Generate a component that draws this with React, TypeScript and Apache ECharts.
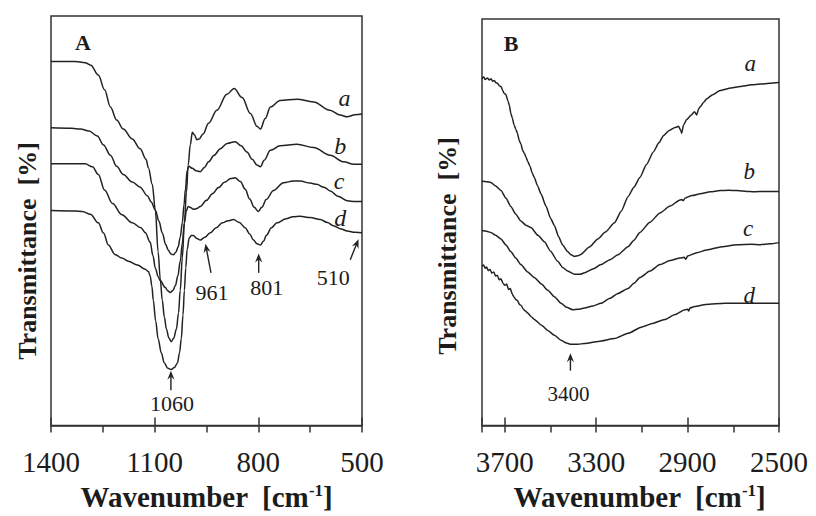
import { useEffect, useRef } from 'react';
import * as echarts from 'echarts';

type Pt = [number, number];

// ---------- Panel A : 1400–500 cm-1 ----------
const A_TICK_LABELS = [1400, 1100, 800, 500];
const A_a: Pt[] = [
  [1400, 88.9], [1330, 88.9], [1301, 88.6], [1285, 88.0], [1263, 85.6], [1245, 82.0], [1228, 77.8], [1210, 74.6],
  [1191, 72.4], [1165, 70.0], [1142, 67.6], [1125, 65.0], [1118, 62.9], [1107, 58.9], [1098, 52.6], [1090, 42.4],
  [1084, 36.0], [1078, 30.6], [1072, 26.5], [1066, 23.6], [1059, 21.4], [1052, 20.5], [1045, 21.3], [1037, 23.6],
  [1031, 27.5], [1026, 33.0], [1020, 41.0], [1014, 49.5], [1008, 57.0], [1003, 63.6], [997, 68.5], [991, 71.6],
  [985, 71.0], [978, 69.8], [971, 70.0], [960, 71.2], [944, 73.8], [920, 77.0], [891, 80.9], [870, 82.3],
  [847, 80.1], [823, 76.2], [804, 73.1], [794, 72.4], [780, 75.0], [765, 77.8], [737, 79.4], [688, 79.7],
  [640, 79.0], [593, 77.0], [563, 75.8], [543, 75.4], [520, 75.9], [500, 76.1],
];
const A_b: Pt[] = [
  [1400, 72.7], [1340, 72.6], [1315, 72.4], [1290, 71.9], [1266, 70.7], [1248, 68.5], [1228, 66.0], [1210, 63.3],
  [1191, 61.3], [1165, 59.5], [1142, 58.2], [1121, 56.1], [1110, 54.6], [1098, 52.6], [1088, 50.0], [1078, 47.1],
  [1068, 44.2], [1061, 42.9], [1053, 41.9], [1046, 41.7], [1039, 42.3], [1032, 43.6], [1026, 46.0], [1020, 49.5],
  [1015, 54.0], [1011, 57.7], [1006, 62.3], [1001, 63.3], [991, 62.8], [980, 62.2], [968, 62.0], [956, 63.0],
  [944, 64.4], [928, 66.0], [910, 67.6], [890, 68.9], [867, 69.3], [850, 68.3], [833, 66.8], [818, 65.0],
  [804, 63.6], [794, 63.2], [783, 64.8], [765, 67.2], [737, 68.3], [688, 68.7], [640, 67.9], [592, 66.0],
  [553, 64.4], [524, 63.8], [500, 63.8],
];
const A_c: Pt[] = [
  [1400, 63.9], [1330, 63.9], [1301, 63.9], [1280, 63.2], [1263, 61.3], [1245, 57.5], [1222, 54.2], [1195, 51.5],
  [1165, 49.5], [1140, 48.3], [1127, 47.1], [1113, 44.8], [1105, 41.5], [1098, 38.4], [1090, 36.4], [1084, 35.4],
  [1069, 33.7], [1062, 32.9], [1055, 32.5], [1047, 33.0], [1040, 34.2], [1033, 36.5], [1026, 40.1], [1020, 44.5],
  [1014, 49.5], [1008, 52.5], [1003, 53.5], [995, 53.2], [988, 52.8], [978, 53.0], [968, 53.5], [950, 55.0],
  [933, 56.6], [915, 58.1], [898, 59.4], [880, 60.3], [867, 60.5], [852, 59.6], [838, 57.7], [825, 55.3],
  [812, 53.3], [800, 52.3], [790, 53.3], [777, 55.2], [756, 57.4], [727, 59.3], [699, 59.7], [679, 59.7],
  [650, 59.2], [631, 58.9], [610, 58.2], [592, 57.3], [570, 56.0], [543, 54.9], [520, 54.7], [500, 54.7],
];
const A_d: Pt[] = [
  [1400, 52.5], [1330, 52.4], [1309, 52.3], [1286, 51.6], [1263, 49.5], [1248, 47.0], [1234, 44.1], [1215, 41.8],
  [1195, 40.9], [1176, 40.1], [1150, 39.2], [1127, 38.2], [1118, 37.6], [1113, 36.5], [1108, 34.0], [1104, 30.6],
  [1097, 25.5], [1090, 21.2], [1081, 17.8], [1072, 15.3], [1062, 14.0], [1052, 13.7], [1043, 14.2], [1034, 15.3],
  [1028, 17.8], [1023, 21.2], [1018, 27.0], [1014, 33.0], [1010, 38.5], [1006, 43.0], [1000, 45.8], [994, 46.4],
  [988, 46.4], [978, 45.7], [968, 45.3], [955, 46.0], [939, 47.1], [922, 48.3], [904, 49.5], [888, 50.0],
  [872, 50.3], [855, 49.6], [838, 48.3], [825, 46.8], [814, 45.3], [804, 44.4], [794, 44.1], [785, 45.0],
  [777, 46.4], [762, 48.3], [746, 49.5], [720, 50.5], [700, 51.0], [679, 51.1], [650, 50.8], [621, 50.3],
  [600, 49.6], [583, 48.8], [560, 48.0], [543, 47.5], [520, 47.2], [500, 47.1],
];
const A_PEAKS = [
  { label: '1060', tail: [1053, 8.6], tip: [1053, 13.4] },
  { label: '961', tail: [937, 37.3], tip: [953, 44.4] },
  { label: '801', tail: [799, 37.3], tip: [799, 42.0] },
  { label: '510', tail: [534, 40.5], tip: [510, 45.5] },
];

// ---------- Panel B : 3800–2500 cm-1 ----------
const B_TICK_LABELS = [3700, 3300, 2900, 2500];
const B_a: Pt[] = [
  [3800, 85.2], [3793, 85.8], [3786, 85.1], [3776, 85.5], [3768, 85.0], [3760, 85.3], [3754, 84.7], [3746, 84.9],
  [3739, 84.3], [3732, 84.2], [3725, 83.6], [3717, 83.4], [3710, 82.5], [3703, 81.7], [3696, 81.5], [3686, 79.8],
  [3680, 78.7], [3674, 76.8], [3667, 75.6], [3660, 74.0], [3652, 72.9], [3645, 71.9], [3637, 70.1], [3630, 69.3],
  [3622, 67.7], [3614, 66.9], [3607, 66.0], [3600, 65.0], [3590, 63.8], [3580, 62.1], [3571, 61.0], [3557, 59.0],
  [3542, 57.0], [3520, 54.0], [3500, 51.0], [3483, 49.2], [3465, 46.5], [3447, 44.4], [3425, 42.8], [3410, 42.0],
  [3395, 41.6], [3380, 41.8], [3368, 42.1], [3330, 43.9], [3293, 45.9], [3260, 47.6], [3220, 49.9], [3190, 52.8],
  [3161, 56.3], [3135, 58.6], [3109, 61.0], [3080, 64.2], [3050, 67.3], [3025, 69.6], [3006, 71.3], [2980, 72.6],
  [2955, 73.3], [2940, 73.6], [2930, 72.6], [2926, 71.9], [2918, 73.9], [2904, 75.3], [2885, 76.3], [2870, 77.2],
  [2860, 76.4], [2852, 77.9], [2845, 78.4], [2830, 79.5], [2816, 80.4], [2790, 81.4], [2758, 82.4], [2710, 83.0],
  [2670, 83.4], [2620, 83.8], [2582, 84.0], [2540, 84.2], [2500, 84.4],
];
const B_b: Pt[] = [
  [3800, 60.1], [3780, 60.0], [3761, 59.8], [3740, 58.9], [3717, 57.8], [3695, 55.9], [3674, 53.9], [3652, 52.0],
  [3630, 50.3], [3608, 49.3], [3586, 48.7], [3555, 46.8], [3527, 45.2], [3500, 42.9], [3469, 40.4], [3445, 38.8],
  [3425, 38.0], [3395, 37.2], [3370, 37.2], [3351, 37.6], [3315, 38.5], [3279, 39.6], [3240, 40.8], [3205, 42.0],
  [3161, 44.0], [3135, 45.6], [3109, 47.5], [3065, 50.0], [3021, 52.3], [2977, 54.0], [2933, 55.5], [2925, 55.6],
  [2920, 55.3], [2910, 56.0], [2880, 56.6], [2845, 57.0], [2800, 57.5], [2758, 57.8], [2720, 57.9], [2684, 57.8],
  [2640, 57.6], [2611, 57.5], [2560, 57.6], [2500, 57.6],
];
const B_c: Pt[] = [
  [3800, 48.0], [3780, 47.8], [3761, 47.5], [3740, 46.8], [3717, 45.9], [3695, 44.4], [3674, 42.8], [3652, 41.2],
  [3630, 39.6], [3600, 37.8], [3571, 36.4], [3540, 34.8], [3512, 33.3], [3483, 31.7], [3454, 30.1], [3430, 29.1],
  [3403, 28.5], [3380, 28.6], [3351, 28.9], [3315, 29.4], [3279, 30.1], [3240, 31.3], [3205, 32.5], [3161, 33.7],
  [3135, 35.0], [3109, 36.4], [3065, 38.0], [3021, 39.6], [2977, 40.6], [2933, 41.2], [2915, 41.4], [2908, 40.9],
  [2900, 41.7], [2860, 42.5], [2816, 43.2], [2750, 44.0], [2684, 44.5], [2620, 44.6], [2582, 44.5], [2540, 44.7],
  [2500, 45.0],
];
const B_d: Pt[] = [
  [3800, 39.2], [3793, 39.5], [3786, 38.7], [3780, 39.0], [3772, 38.1], [3765, 38.4], [3757, 37.5], [3748, 37.8],
  [3741, 36.8], [3733, 37.0], [3725, 35.9], [3717, 36.1], [3709, 35.1], [3700, 34.5], [3692, 34.8], [3684, 33.5],
  [3676, 33.7], [3668, 32.4], [3660, 31.6], [3652, 31.0], [3644, 30.7], [3636, 29.8], [3628, 29.5], [3620, 28.7],
  [3610, 28.2], [3600, 27.7], [3585, 26.8], [3571, 26.1], [3540, 24.7], [3512, 23.4], [3483, 22.2], [3454, 21.0],
  [3430, 20.3], [3410, 20.0], [3380, 20.0], [3351, 20.2], [3290, 20.7], [3220, 21.4], [3160, 22.7], [3103, 24.2],
  [3050, 25.2], [3000, 26.1], [2955, 27.3], [2912, 28.5], [2900, 28.6], [2895, 28.2], [2890, 28.9], [2869, 29.3],
  [2820, 29.8], [2737, 30.1], [2680, 30.1], [2591, 30.1], [2500, 30.1],
];
const B_PEAKS = [{ label: '3400', tail: [3413, 13.5], tip: [3413, 17.8] }];

const CURVE_NAMES = ['a', 'b', 'c', 'd'];

// ---------- layout / style (not data) ----------
const FONT = '"Liberation Serif", "Times New Roman", serif';
const INK = '#1c1c1c';
const A_LABEL_POS: Pt[] = [[551, 80.1], [563, 68.3], [566, 59.6], [563, 50.7]];
const B_LABEL_POS: Pt[] = [[2626, 89.1], [2630, 62.5], [2635, 48.5], [2630, 31.9]];
const A_PEAK_OFFSETS: Pt[] = [[1, 13], [1, 20], [8, 15], [-17, 18]];
const B_PEAK_OFFSETS: Pt[] = [[-2, 23]];

function makeXAxes(gridIndex: number, min: number, max: number, minor: number, labels: number[]) {
  return [
    {
      type: 'value', gridIndex, min, max, interval: minor, inverse: true, position: 'bottom',
      axisLine: { show: true, lineStyle: { color: '#333', width: 1.5 } },
      axisTick: { show: true, inside: false, length: 7, lineStyle: { color: '#333', width: 1.5 } },
      axisLabel: {
        show: true, margin: 22, fontFamily: FONT, fontSize: 29, color: INK,
        formatter: (v: number) => (labels.includes(Math.round(v)) ? String(Math.round(v)) : ''),
      },
      splitLine: { show: false },
      name: '{b|Wavenumber  [cm}{s|-1}{b|]}',
      nameLocation: 'middle',
      nameGap: 53,
      nameTextStyle: {
        rich: {
          b: { fontFamily: FONT, fontSize: 29, fontWeight: 'bold', color: INK, lineHeight: 30 },
          s: { fontFamily: FONT, fontSize: 17, fontWeight: 'bold', color: INK, verticalAlign: 'top', lineHeight: 30 },
        },
      },
    },
    {
      type: 'value', gridIndex, min, max, interval: minor * 2, inverse: true, position: 'bottom',
      axisLine: { show: false },
      axisTick: { show: true, inside: true, length: 8, lineStyle: { color: '#333', width: 1.5 } },
      axisLabel: { show: false },
      splitLine: { show: false },
    },
  ];
}

function makeYAxis(gridIndex: number) {
  return {
    type: 'value', gridIndex, min: 0, max: 100,
    axisLine: { show: false }, axisTick: { show: false }, axisLabel: { show: false }, splitLine: { show: false },
  };
}

function curve(name: string, data: Pt[], xi: number, yi: number, smooth: number) {
  return {
    type: 'line', name, data, xAxisIndex: xi, yAxisIndex: yi,
    showSymbol: false, symbol: 'none', smooth, smoothMonotone: 'x',
    lineStyle: { color: '#222', width: 1.5 }, silent: true,
  };
}

export default function App() {
  const ref = useRef<HTMLDivElement>(null);
  useEffect(() => {
    const chart = echarts.init(ref.current!, undefined, { renderer: 'svg' });
    const xAxes = [
      ...makeXAxes(0, 500, 1400, 150, A_TICK_LABELS),
      ...makeXAxes(1, 2500, 3800, 200, B_TICK_LABELS),
    ];
    xAxes[2].nameTextStyle = { ...xAxes[2].nameTextStyle, padding: [0, 0, 0, 18] } as any;
    const aCurves = [A_a, A_b, A_c, A_d];
    const bCurves = [B_a, B_b, B_c, B_d];
    chart.setOption({
      animation: false,
      backgroundColor: '#ffffff',
      grid: [
        { left: 51, top: 16, width: 311, height: 424, show: true, borderColor: '#333', borderWidth: 1.5, backgroundColor: 'transparent' },
        { left: 482, top: 19, width: 297, height: 421, show: true, borderColor: '#333', borderWidth: 1.5, backgroundColor: 'transparent' },
      ],
      xAxis: xAxes,
      yAxis: [makeYAxis(0), makeYAxis(1)],
      series: [
        ...aCurves.map((d, i) => curve('A-' + CURVE_NAMES[i], d, 0, 0, 0.35)),
        ...bCurves.map((d, i) => curve('B-' + CURVE_NAMES[i], d, 2, 1, 0.2)),
      ],
    });

    const toPx = (seriesIndex: number, p: number[]) =>
      chart.convertToPixel({ seriesIndex }, p) as unknown as number[];

    const graphics: any[] = [];
    const txt = (x: number, y: number, text: string, font: any, extra: any = {}) => ({
      type: 'text', x, y, silent: true, ...extra,
      style: {
        text, fill: INK, fontFamily: FONT, textAlign: 'center', textVerticalAlign: 'middle', verticalAlign: 'middle',
        ...font,
      },
    });

    // panel letters
    graphics.push(txt(83, 42, 'A', { fontSize: 22, fontWeight: 'bold' }));
    graphics.push(txt(511, 43, 'B', { fontSize: 22, fontWeight: 'bold' }));
    // y titles
    graphics.push(txt(27, 251, 'Transmittance  [%]', { fontSize: 26, fontWeight: 'bold' }, { rotation: Math.PI / 2 }));
    graphics.push(txt(447, 246, 'Transmittance  [%]', { fontSize: 26, fontWeight: 'bold' }, { rotation: Math.PI / 2 }));

    // curve labels
    A_LABEL_POS.forEach((p, i) => {
      const [x, y] = toPx(0, p);
      graphics.push(txt(x, y, CURVE_NAMES[i], { fontSize: 24, fontStyle: 'italic' }));
    });
    B_LABEL_POS.forEach((p, i) => {
      const [x, y] = toPx(4, p);
      graphics.push(txt(x, y, CURVE_NAMES[i], { fontSize: 23, fontStyle: 'italic' }));
    });

    // peak arrows
    const arrow = (si: number, pk: { label: string; tail: number[]; tip: number[] }, off: Pt, fs: number) => {
      const t = toPx(si, pk.tail);
      const h = toPx(si, pk.tip);
      const dx = h[0] - t[0];
      const dy = h[1] - t[1];
      const len = Math.hypot(dx, dy) || 1;
      const ux = dx / len;
      const uy = dy / len;
      const nx = -uy;
      const ny = ux;
      const L = 9;
      const W = 3.6;
      graphics.push({
        type: 'line', silent: true,
        shape: { x1: t[0], y1: t[1], x2: h[0] - ux * L * 0.6, y2: h[1] - uy * L * 0.6 },
        style: { stroke: '#222', lineWidth: 1.4 },
      });
      graphics.push({
        type: 'polygon', silent: true,
        shape: {
          points: [
            [h[0], h[1]],
            [h[0] - ux * L + nx * W, h[1] - uy * L + ny * W],
            [h[0] - ux * L * 0.65, h[1] - uy * L * 0.65],
            [h[0] - ux * L - nx * W, h[1] - uy * L - ny * W],
          ],
        },
        style: { fill: '#222' },
      });
      graphics.push(txt(t[0] + off[0], t[1] + off[1], pk.label, { fontSize: fs }));
    };
    A_PEAKS.forEach((pk, i) => arrow(0, pk, A_PEAK_OFFSETS[i], 22));
    B_PEAKS.forEach((pk, i) => arrow(4, pk, B_PEAK_OFFSETS[i], 21));

    chart.setOption({ graphic: graphics });
    return () => chart.dispose();
  }, []);
  return (
    <div
      ref={ref}
      style={{ position: 'fixed', left: 0, top: 0, width: 816, height: 516, background: '#fff' }}
    />
  );
}
